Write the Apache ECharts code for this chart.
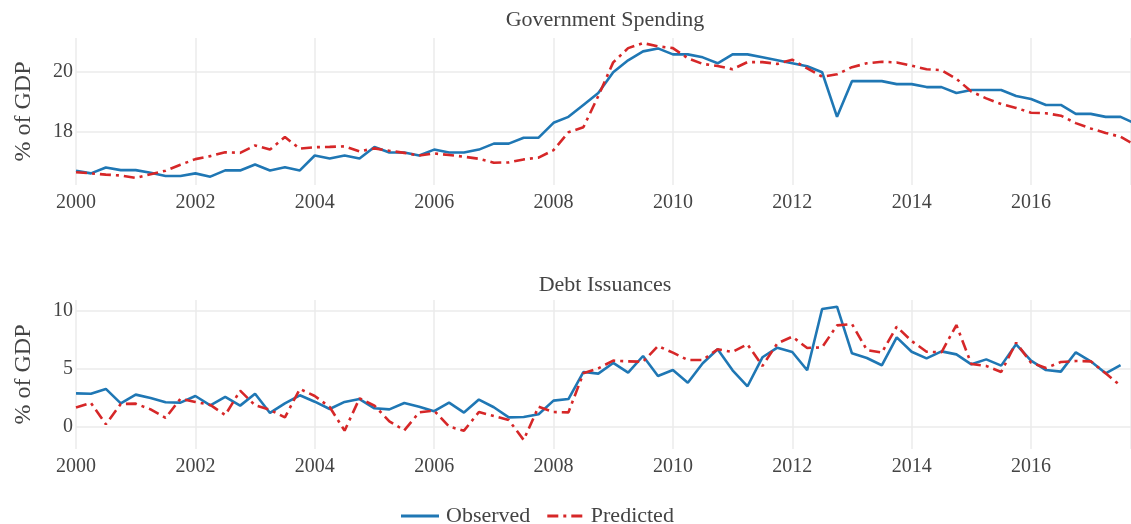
<!DOCTYPE html>
<html>
<head>
<meta charset="utf-8">
<script src="https://cdn.jsdelivr.net/npm/echarts@6/dist/echarts.min.js"></script>
<style>
  html, body { margin: 0; padding: 0; background: #fff; }
  #chart { width: 1131px; height: 524px; }
</style>
</head>
<body>
<div id="chart"></div>
<script>
// quarterly dates (2000 Q1 .. 2017 Q4)
const quarters = [
  2000, 2000.25, 2000.5, 2000.75, 2001, 2001.25, 2001.5, 2001.75,
  2002, 2002.25, 2002.5, 2002.75, 2003, 2003.25, 2003.5, 2003.75,
  2004, 2004.25, 2004.5, 2004.75, 2005, 2005.25, 2005.5, 2005.75,
  2006, 2006.25, 2006.5, 2006.75, 2007, 2007.25, 2007.5, 2007.75,
  2008, 2008.25, 2008.5, 2008.75, 2009, 2009.25, 2009.5, 2009.75,
  2010, 2010.25, 2010.5, 2010.75, 2011, 2011.25, 2011.5, 2011.75,
  2012, 2012.25, 2012.5, 2012.75, 2013, 2013.25, 2013.5, 2013.75,
  2014, 2014.25, 2014.5, 2014.75, 2015, 2015.25, 2015.5, 2015.75,
  2016, 2016.25, 2016.5, 2016.75, 2017, 2017.25, 2017.5, 2017.75
];

// Government spending, % of GDP
const spendObserved = [
  16.69, 16.60, 16.80, 16.71, 16.71, 16.62, 16.51, 16.51, 16.60, 16.49,
  16.70, 16.70, 16.90, 16.70, 16.81, 16.70, 17.20, 17.10, 17.20, 17.10,
  17.49, 17.30, 17.30, 17.20, 17.40, 17.30, 17.30, 17.40, 17.60, 17.60,
  17.80, 17.80, 18.30, 18.50, 18.90, 19.30, 20.00, 20.40, 20.70, 20.80,
  20.60, 20.60, 20.50, 20.30, 20.60, 20.60, 20.50, 20.40, 20.30, 20.20,
  20.00, 18.50, 19.70, 19.70, 19.70, 19.60, 19.60, 19.50, 19.50, 19.30,
  19.40, 19.40, 19.40, 19.20, 19.10, 18.90, 18.90, 18.60, 18.60, 18.50,
  18.50, 18.27
];
const spendPredicted = [
  16.64, 16.60, 16.56, 16.53, 16.45, 16.57, 16.69, 16.89, 17.08, 17.18,
  17.31, 17.29, 17.54, 17.40, 17.82, 17.43, 17.48, 17.49, 17.51, 17.34,
  17.44, 17.36, 17.29, 17.20, 17.27, 17.22, 17.16, 17.09, 16.96, 16.97,
  17.07, 17.13, 17.38, 17.98, 18.15, 19.20, 20.33, 20.81, 20.98, 20.87,
  20.81, 20.47, 20.28, 20.21, 20.10, 20.34, 20.34, 20.28, 20.42, 20.13,
  19.85, 19.93, 20.17, 20.30, 20.35, 20.33, 20.22, 20.10, 20.07, 19.78,
  19.35, 19.12, 18.93, 18.80, 18.64, 18.62, 18.54, 18.29, 18.11, 17.96,
  17.83, 17.55
];

// Debt issuances, % of GDP (ends 2017 Q3)
const debtObserved = [
  2.90, 2.87, 3.28, 2.04, 2.79, 2.50, 2.13, 2.10, 2.67, 1.87,
  2.59, 1.84, 2.87, 1.21, 2.04, 2.73, 2.18, 1.55, 2.16, 2.41,
  1.61, 1.52, 2.07, 1.75, 1.36, 2.10, 1.24, 2.36, 1.70, 0.83,
  0.86, 1.09, 2.27, 2.41, 4.74, 4.60, 5.52, 4.68, 6.12, 4.40,
  4.91, 3.82, 5.49, 6.70, 4.89, 3.51, 6.01, 6.84, 6.47, 4.89,
  10.17, 10.37, 6.35, 5.95, 5.32, 7.73, 6.49, 5.92, 6.52, 6.26,
  5.40, 5.83, 5.29, 7.13, 5.72, 4.91, 4.77, 6.44, 5.66, 4.63,
  5.34
];
const debtPredicted = [
  1.67, 2.07, 0.23, 1.98, 2.01, 1.52, 0.78, 2.44, 2.16, 1.90,
  1.03, 3.13, 1.87, 1.47, 0.83, 3.28, 2.67, 1.72, -0.32, 2.47,
  1.84, 0.49, -0.29, 1.26, 1.41, 0.03, -0.32, 1.29, 0.95, 0.60,
  -1.12, 1.75, 1.29, 1.26, 4.63, 5.06, 5.72, 5.66, 5.63, 6.98,
  6.41, 5.78, 5.78, 6.70, 6.47, 7.13, 5.26, 7.21, 7.79, 6.81,
  6.87, 8.76, 8.88, 6.64, 6.41, 8.65, 7.41, 6.49, 6.44, 8.79,
  5.43, 5.26, 4.74, 7.27, 5.55, 5.09, 5.60, 5.69, 5.66, 4.63,
  3.56
];

const spendTicks = [18, 20];
const debtTicks = [0, 5, 10];
const panelTitles = ['Government Spending', 'Debt Issuances'];

const BLUE = '#1f77b4';
const RED = '#d62728';
const FONT = 'Liberation Serif';
const TEXT = '#444';
const GRID = '#ebebeb';

// legend glyphs: a solid stroke and a dash-dot stroke, drawn as thin bars
const ICON_SOLID = 'path://M0,0H40V3H0Z';
const ICON_DASHDOT = 'path://M0,0H11V3H0Z M16,0H19V3H16Z M24,0H35V3H24Z';

const pairs = (vals) => vals.map((v, i) => [quarters[i], v]);

const xAxisOf = (idx) => ({
  type: 'value', gridIndex: idx, min: 2000, max: 2017.675, interval: 2,
  axisLine: { show: false }, axisTick: { show: false },
  axisLabel: { color: TEXT, fontFamily: FONT, fontSize: 20, margin: 8,
    showMaxLabel: false, formatter: v => String(v) },
  splitLine: { show: true, lineStyle: { color: GRID, width: 1.5 } }
});

const yAxisOf = (idx, min, max, ticks) => ({
  type: 'value', gridIndex: idx, min: min, max: max,
  name: '% of GDP', nameLocation: 'middle', nameGap: 40,
  nameTextStyle: { color: TEXT, fontFamily: FONT, fontSize: 24 },
  axisLine: { show: false },
  axisTick: { show: false, customValues: ticks },
  axisLabel: { color: TEXT, fontFamily: FONT, fontSize: 20, margin: 3,
    customValues: ticks },
  splitLine: { show: true, lineStyle: { color: GRID, width: 1.5 } }
});

const lineSeries = (name, idx, data, color, dash) => ({
  name: name, type: 'line', xAxisIndex: idx, yAxisIndex: idx,
  data: data, symbol: 'none', clip: true,
  lineStyle: { color: color, width: 2.6, type: dash },
  itemStyle: { color: color }
});

const chart = echarts.init(document.getElementById('chart'));
chart.setOption({
  animation: false,
  backgroundColor: '#fff',
  grid: [
    { left: 76, right: 0, top: 38, height: 147, outerBoundsMode: 'none' },
    { left: 76, right: 0, top: 300, height: 149, outerBoundsMode: 'none' }
  ],
  xAxis: [xAxisOf(0), xAxisOf(1)],
  yAxis: [
    yAxisOf(0, 16.21, 21.15, spendTicks),
    yAxisOf(1, -1.9, 10.95, debtTicks)
  ],
  legend: {
    data: [
      { name: 'Observed', icon: ICON_SOLID, itemStyle: { color: BLUE } },
      { name: 'Predicted', icon: ICON_DASHDOT, itemStyle: { color: RED } }
    ],
    top: 500, left: 396,
    itemWidth: 38, itemHeight: 3, itemGap: 17,
    textStyle: { color: TEXT, fontFamily: FONT, fontSize: 22, padding: [0, 0, 0, 2] }
  },
  graphic: [
    { type: 'text', x: 605, y: 20,
      style: { text: panelTitles[0], fill: TEXT, font: '22px "Liberation Serif"',
        textAlign: 'center', textVerticalAlign: 'middle' } },
    { type: 'text', x: 605, y: 285,
      style: { text: panelTitles[1], fill: TEXT, font: '22px "Liberation Serif"',
        textAlign: 'center', textVerticalAlign: 'middle' } }
  ],
  series: [
    lineSeries('Observed', 0, pairs(spendObserved), BLUE, 'solid'),
    lineSeries('Predicted', 0, pairs(spendPredicted), RED, [11, 5, 3, 5]),
    lineSeries('Observed', 1, pairs(debtObserved), BLUE, 'solid'),
    lineSeries('Predicted', 1, pairs(debtPredicted), RED, [11, 5, 3, 5])
  ]
});
</script>
</body>
</html>
